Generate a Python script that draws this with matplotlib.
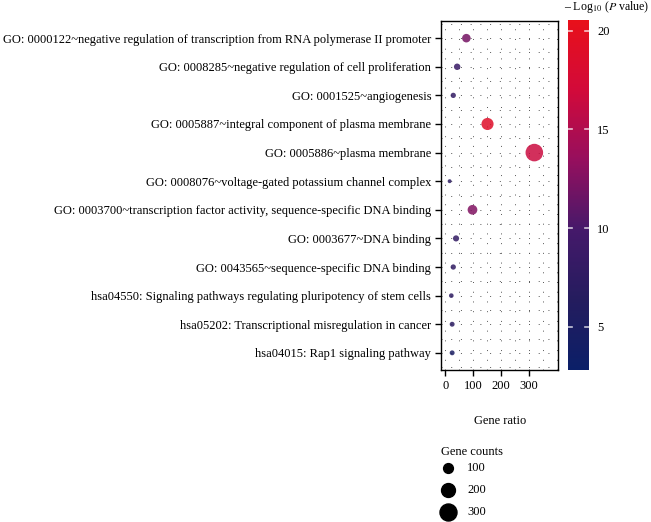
import matplotlib
matplotlib.use("Agg")
import matplotlib.pyplot as plt
import numpy as np
from matplotlib.colors import LinearSegmentedColormap, Normalize
from matplotlib.ticker import MultipleLocator

plt.rcParams['font.family'] = ['Liberation Serif', 'DejaVu Serif']

terms = [
    "GO: 0000122~negative regulation of transcription from RNA polymerase II promoter",
    "GO: 0008285~negative regulation of cell proliferation",
    "GO: 0001525~angiogenesis",
    "GO: 0005887~integral component of plasma membrane",
    "GO: 0005886~plasma membrane",
    "GO: 0008076~voltage-gated potassium channel complex",
    "GO: 0003700~transcription factor activity, sequence-specific DNA binding",
    "GO: 0003677~DNA binding",
    "GO: 0043565~sequence-specific DNA binding",
    "hsa04550: Signaling pathways regulating pluripotency of stem cells",
    "hsa05202: Transcriptional misregulation in cancer",
    "hsa04015: Rap1 signaling pathway",
]
gene_counts = [76, 43, 29, 152, 320, 16, 98, 39, 29, 22, 25, 25]
neg_log_p = [12.0, 8.5, 7.8, 19.0, 16.5, 7.0, 12.5, 7.8, 7.6, 7.3, 7.0, 5.0]
x_ticks = [0, 100, 200, 300]
cbar_ticks = [5, 10, 15, 20]
legend_counts = [100, 200, 300]

cmap = LinearSegmentedColormap.from_list(
    "pv", ["#0b1f68", "#241c5e", "#45196a", "#960f5e", "#d20a3a", "#e8101a"])
norm = Normalize(vmin=2.8, vmax=20.55)

W, H = 651, 522
fs = 9.0
fig = plt.figure(figsize=(W / 100, H / 100), dpi=100)

ax = fig.add_axes([441 / W, 1 - 370 / H, (558 - 441) / W, (370 - 21) / H])
n = len(terms)
ypos = np.arange(n)[::-1]
size_scale = 0.5
ax.scatter(gene_counts, ypos, s=np.array(gene_counts) * size_scale,
           c=neg_log_p, cmap=cmap, norm=norm, edgecolors='none', alpha=0.85, zorder=3)

ax.set_xlim(-15, 405)
ax.set_ylim(-0.6, n - 1 + 0.6)
ax.set_yticks(ypos)
ax.set_yticklabels(terms, fontsize=fs)
ax.set_xticks(x_ticks)
ax.set_xticklabels([str(t) for t in x_ticks], fontsize=fs)
ax.xaxis.set_minor_locator(MultipleLocator(50))
ax.yaxis.set_minor_locator(MultipleLocator(0.5))
ax.tick_params(axis='both', which='major', length=4, width=1, color='black', pad=3)
ax.tick_params(axis='both', which='minor', length=0)
ax.grid(True, which='both', linestyle=(0, (1, 9)), color='#555555', linewidth=0.7, zorder=0)
for sp in ax.spines.values():
    sp.set_linewidth(1)
ax.set_axisbelow(True)

fig.text(500 / W, 1 - 421 / H, "Gene ratio", ha='center', va='center', fontsize=fs)

# colorbar
cax = fig.add_axes([568 / W, 1 - 370 / H, (589 - 568) / W, (370 - 20) / H])
sm = matplotlib.cm.ScalarMappable(norm=norm, cmap=cmap)
cb = fig.colorbar(sm, cax=cax)
cb.outline.set_visible(False)
cb.set_ticks(cbar_ticks)
cb.ax.tick_params(labelsize=fs, length=0, pad=6)
for t in cbar_ticks:
    cax.plot([0, 0.2], [t, t], color='white', alpha=0.75, lw=1.2, transform=cax.get_yaxis_transform())
    cax.plot([0.8, 1.0], [t, t], color='white', alpha=0.75, lw=1.2, transform=cax.get_yaxis_transform())
fig.text(649 / W, 1 - 7 / H, r"– Log$_{10}$ ($P$ value)", ha='right', va='center', fontsize=8.6,
         math_fontfamily='stix')

# size legend
fig.text(441 / W, 1 - 452 / H, "Gene counts", ha='left', va='center', fontsize=fs)
leg_y = [468, 490, 512]
for cnt, yy in zip(legend_counts, leg_y):
    fig.add_artist(plt.Line2D([448 / W], [1 - yy / H], marker='o', linestyle='none',
                              markersize=np.sqrt(cnt * size_scale), color='black',
                              transform=fig.transFigure))
    fig.text(467 / W, 1 - yy / H, str(cnt), ha='left', va='center', fontsize=fs)

fig.savefig("out.png", dpi=100)
